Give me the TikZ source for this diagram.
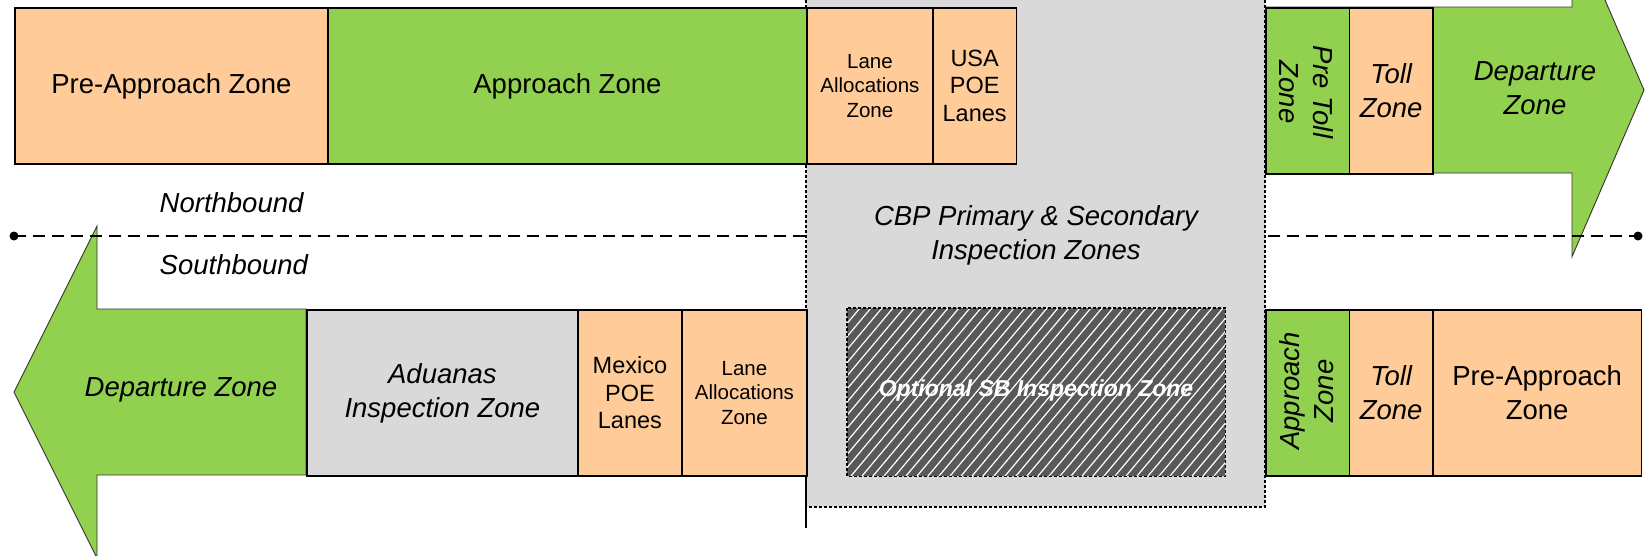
\documentclass[tikz,border=0pt]{standalone}
\usepackage{fontspec}
\setmainfont{Liberation Sans}
\definecolor{peach}{HTML}{FFCC99}
\definecolor{zgreen}{HTML}{92D050}
\definecolor{zgray}{HTML}{D9D9D9}
\definecolor{zdark}{HTML}{595959}
\tikzset{
  zonebox/.style={draw=black, line width=1.8pt, inner sep=0pt, anchor=north west, align=center,
    font=\fontsize{27.5pt}{34pt}\selectfont},
  bigtxt/.style={font=\fontsize{27.5pt}{34pt}\selectfont, align=center, inner sep=0pt},
  bigit/.style={font=\fontsize{27.5pt}{34pt}\selectfont\itshape, align=center, inner sep=0pt},
  smalltxt/.style={font=\fontsize{20.5pt}{24.5pt}\selectfont, align=center, inner sep=0pt},
  midtxt/.style={font=\fontsize{23.5pt}{27.5pt}\selectfont, align=center, inner sep=0pt},
  dotborder/.style={draw=black, line width=1.5pt, dash pattern=on 3pt off 2pt},
  arrowshape/.style={fill=zgreen, draw=black!80, line width=0.9pt, line join=miter},
  midline/.style={draw=black, line width=1.4pt, dash pattern=on 12pt off 7pt},
}
\begin{document}
\begin{tikzpicture}[x=1pt, y=-1pt]
\useasboundingbox (0,0) rectangle (1645,555);
\clip (0,0) rectangle (1645,555);

% big arrows
\path[arrowshape] (306,309) -- (97,309) -- (97,226) -- (14,392) -- (97,558) -- (97,475) -- (306,475) -- cycle;
\path[arrowshape] (1265,7) -- (1572,7) -- (1572,-76) -- (1644,90) -- (1572,256.7) -- (1572,173) -- (1265,173) -- cycle;

% centre line
\coordinate (dl) at (14,236);
\coordinate (dr) at (1638,236);
\draw[midline] (dl) -- (dr);
\fill (dl) circle (4.5pt);
\fill (dr) circle (4.5pt);

% CBP region
\fill[zgray] (806,-5) rectangle (1265,507);
\draw[dotborder] (806,-5) -- (806,507) -- (1265,507) -- (1265,-5);
\draw[line width=1.3pt] (806,475) -- (806,528);

% northbound top row
\node[zonebox, fill=peach, minimum width=313pt, minimum height=156pt] (preappN) at (14,7) {Pre-Approach Zone};
\node[zonebox, fill=zgreen, minimum width=479pt, minimum height=156pt] (appN) at (327,7) {Approach Zone};
\node[zonebox, fill=peach, minimum width=126pt, minimum height=156pt, smalltxt] (laneN) at (806,7) {Lane\\Allocations\\Zone};
\node[zonebox, fill=peach, minimum width=83.5pt, minimum height=156pt, midtxt] (usaN) at (932,7) {USA\\POE\\Lanes};
\node[zonebox, fill=zgreen, minimum width=83.5pt, minimum height=166pt] (pretollN) at (1265,7) {};
\node[zonebox, fill=peach, minimum width=83.5pt, minimum height=166pt, bigit] (tollN) at (1348.5,7) {Toll\\Zone};
\node[bigit, rotate=-90] (pretollT) at (1306,92) {Pre Toll\\Zone};
\node[bigit] (depN) at (1535,88) {Departure\\Zone};

% labels
\node[bigit, anchor=west] (nb) at (159.5,202.5) {Northbound};
\node[bigit, anchor=west] (sb) at (159.5,265) {Southbound};
\node[bigit] (cbp) at (1036,235) {CBP Primary \& Secondary\\Inspection Zones};

% southbound row
\node[bigit] (depS) at (181,390) {Departure Zone};
\node[zonebox, fill=zgray, minimum width=271pt, minimum height=166pt, bigit] (adu) at (306,309) {Aduanas\\Inspection Zone};
\node[zonebox, fill=peach, minimum width=104pt, minimum height=166pt, midtxt] (mex) at (577,309) {Mexico\\POE\\Lanes};
\node[zonebox, fill=peach, minimum width=125pt, minimum height=166pt, smalltxt] (laneS) at (681,309) {Lane\\Allocations\\Zone};
\node[zonebox, fill=zgreen, minimum width=83.5pt, minimum height=166pt] (appS) at (1265,309) {};
\node[bigit, rotate=90] (appT) at (1307,391) {Approach\\Zone};
\node[zonebox, fill=peach, minimum width=83.5pt, minimum height=166pt, bigit] (tollS) at (1348.5,309) {Toll\\Zone};
\node[zonebox, fill=peach, minimum width=208.5pt, minimum height=166pt] (preappS) at (1432,309) {Pre-Approach\\Zone};

% optional SB inspection zone
\node[fill=zdark, inner sep=0pt, anchor=north west, minimum width=378pt, minimum height=168pt] (opt) at (847,308) {};
\begin{scope}
  \clip (opt.north west) rectangle (opt.south east);
  \foreach \i in {0,...,48} {
    \draw[white, line width=1.2pt] ({847-150+\i*11},476) -- ++(141,-168);
  }
\end{scope}
\draw[dotborder] (opt.north west) rectangle (opt.south east);
\node[text=white, font=\fontsize{23pt}{27pt}\selectfont\bfseries\itshape, inner sep=0pt] (optT) at (1036,391) {Optional SB Inspection Zone};
\end{tikzpicture}
\end{document}
